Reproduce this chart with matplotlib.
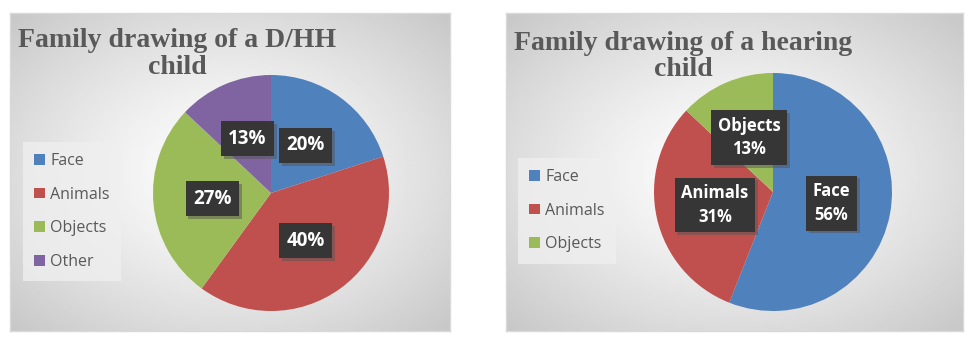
import numpy as np
import matplotlib.pyplot as plt
import matplotlib.patheffects as pe

# data
dhh_labels = ['Face', 'Animals', 'Objects', 'Other']
dhh_values = [20, 40, 27, 13]
hearing_labels = ['Face', 'Animals', 'Objects']
hearing_values = [56, 31, 13]
colors = ['#4F81BD', '#C0504D', '#9BBB59', '#8064A2']

W, H = 975, 344
fig = plt.figure(figsize=(W / 100, H / 100), dpi=100)
fig.patch.set_facecolor('white')


def px_axes(x0, y0, x1, y1):
    # axes from pixel box (y measured from top)
    return fig.add_axes([x0 / W, 1 - y1 / H, (x1 - x0) / W, (y1 - y0) / H])


def panel(x0, y0, x1, y1):
    ax = px_axes(x0, y0, x1, y1)
    yy, xx = np.mgrid[-1:1:200j, -1:1:300j]
    d = np.sqrt(xx ** 2 + yy ** 2) / np.sqrt(2)
    g = 1.0 - 0.22 * d ** 1.3
    ax.imshow(g, cmap='gray', vmin=0, vmax=1, aspect='auto',
              extent=[0, 1, 0, 1], interpolation='bilinear')
    ax.set_xticks([])
    ax.set_yticks([])
    for s in ax.spines.values():
        s.set_color('#d9d9d9')
        s.set_linewidth(1)
    return ax


def pie(cx, cy, r, values, names, fs, with_names):
    ax = px_axes(cx - r, cy - r, cx + r, cy + r)
    wedges, _, autotexts = ax.pie(values, colors=colors[:len(values)],
                                  startangle=90, counterclock=False,
                                  autopct='%1.0f%%', pctdistance=0.5,
                                  radius=1, wedgeprops=dict(linewidth=0))
    ax.set_xlim(-1, 1)
    ax.set_ylim(-1, 1)
    for t, name, v in zip(autotexts, names, values):
        t.set_text(f'{name}\n{v}%' if with_names else f'{v}%')
        t.set_color('white')
        t.set_fontsize(fs)
        t.set_fontweight('bold')
        t.set_family('Open Sans')
        t.set_linespacing(1.4)
        t.set_bbox(dict(boxstyle='square,pad=0.4', facecolor='#363636',
                        edgecolor='none'))
        t.get_bbox_patch().set_path_effects([
            pe.SimplePatchShadow(offset=(2, -2), shadow_rgbFace='#555555',
                                 alpha=0.5), pe.Normal()])
    return wedges


def title(cx, lines, y_base):
    for line, yb in zip(lines, y_base):
        fig.text(cx / W, 1 - yb / H, line, ha='center', va='baseline',
                 family='Liberation Serif', fontweight='bold', fontsize=20,
                 color='#595959')


def legend(wedges, names, x0, y0):
    leg = fig.legend(wedges, names, loc='upper left',
                     bbox_to_anchor=(x0 / W, 1 - y0 / H),
                     frameon=True, fancybox=False, handlelength=0.65,
                     handleheight=0.65, handletextpad=0.35,
                     labelspacing=1.1, borderpad=0.7, borderaxespad=0,
                     prop=dict(family='Open Sans', size=11.5))
    leg.get_frame().set_facecolor('#efefef')
    leg.get_frame().set_edgecolor('none')
    for t in leg.get_texts():
        t.set_color('#595959')


panel(10, 13, 450, 331)
panel(506, 13, 963, 331)

w1 = pie(271, 193, 118, dhh_values, dhh_labels, 13.5, False)
w2 = pie(773, 192, 119, hearing_values, hearing_labels, 12, True)

title(177, ['Family drawing of a D/HH', 'child'], [47, 74])
title(683, ['Family drawing of a hearing', 'child'], [50, 76])

legend(w1, dhh_labels, 23, 142)
legend(w2, hearing_labels, 518, 158)

fig.savefig('out.png', dpi=100)
